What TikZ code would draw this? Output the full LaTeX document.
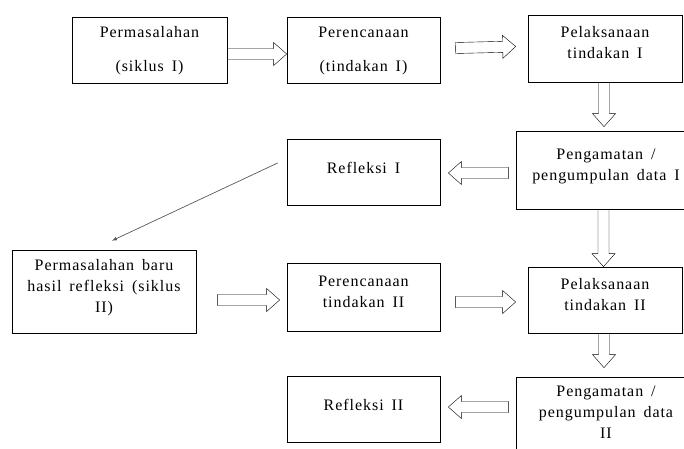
\documentclass[tikz,border=0pt]{standalone}
\usepackage{fontspec}
\setmainfont{Liberation Serif}[LetterSpace=6,WordSpace=1.6]
\usetikzlibrary{positioning, calc}

\newcommand{\lifted}[1]{\raisebox{4.5pt}[\height][\depth]{#1}}

\tikzset{
  stage/.style={draw, rectangle, inner sep=0pt, line width=0.7pt, font=\fontsize{16}{21}\selectfont},
  fat/.style={draw, line width=0.7pt, to path={
    ($(\tikztostart)!5.5pt!90:(\tikztotarget)$)
    -- ($(\tikztotarget)!13pt!(\tikztostart)!5.5pt!90:(\tikztotarget)$)
    -- ($(\tikztotarget)!13pt!(\tikztostart)!11.5pt!90:(\tikztotarget)$)
    -- (\tikztotarget)
    -- ($(\tikztotarget)!13pt!(\tikztostart)!11.5pt!-90:(\tikztotarget)$)
    -- ($(\tikztotarget)!13pt!(\tikztostart)!5.5pt!-90:(\tikztotarget)$)
    -- ($(\tikztostart)!5.5pt!-90:(\tikztotarget)$) -- cycle}},
  back/.style={-latex, line width=0.7pt, draw=black!65},
}

\begin{document}
\begin{tikzpicture}[x=1pt,y=-1pt,on grid]
   \useasboundingbox (0,0) rectangle (684,448);
   \node[stage,minimum width=155pt,minimum height=66pt] (perm1) at (149.5,50) {\begin{tabular}{c} Permasalahan \\[13pt] (siklus I) \end{tabular}};
   \node[stage,minimum width=153pt,minimum height=66pt] (renc1) [right=214pt of perm1] {\begin{tabular}{c} Perencanaan \\[13pt] (tindakan I) \end{tabular}};
   \node[stage,minimum width=154pt,minimum height=67pt] (pel1) [above right=1.5pt and 241.5pt of renc1] {\lifted{\begin{tabular}{c} Pelaksanaan \\ tindakan I \end{tabular}}};
   \node[stage,minimum width=180pt,minimum height=78pt] (peng1) [below right=121.5pt and 1pt of pel1] {\lifted{\begin{tabular}{c} Pengamatan / \\ pengumpulan data I \end{tabular}}};
   \node[stage,minimum width=153pt,minimum height=66pt] (refl1) [below left=2pt and 242.5pt of peng1] {\lifted{Refleksi I}};
   \node[stage,minimum width=154pt,minimum height=66pt] (pel2) [below left=130pt and 1pt of peng1] {\lifted{\begin{tabular}{c} Pelaksanaan \\ tindakan II \end{tabular}}};
   \node[stage,minimum width=153pt,minimum height=68pt] (renc2) [above left=3pt and 241.5pt of pel2] {\lifted{\begin{tabular}{c} Perencanaan \\ tindakan II \end{tabular}}};
   \node[stage,minimum width=184pt,minimum height=83pt] (perm2) [above left=5.5pt and 259.5pt of renc2] {\lifted{\begin{tabular}{c} Permasalahan baru \\ hasil refleksi (siklus \\ II) \end{tabular}}};
   \node[stage,minimum width=180pt,minimum height=82pt] (peng2) [below right=118pt and 1pt of pel2] {\lifted{\begin{tabular}{c} Pengamatan / \\ pengumpulan data \\ II \end{tabular}}};
   \node[stage,minimum width=153pt,minimum height=66pt] (refl2) [below=112pt of renc2] {\lifted{Refleksi II}};

   \draw ([yshift=-4pt]perm1.east) to[fat] ([yshift=-4pt]renc1.west);
   \draw ([xshift=15pt,yshift=2pt]renc1.east) to[fat] ([xshift=-12pt,yshift=2pt]pel1.west);
   \draw ([xshift=-1pt]pel1.south) to[fat] ([xshift=-2pt,yshift=4pt]peng1.north);
   \draw ([xshift=-7pt,yshift=-3pt]peng1.west) to[fat] ([xshift=8pt,yshift=-1pt]refl1.east);
   \draw[back] ([xshift=-9pt,yshift=9pt]refl1.west) -- ([xshift=8pt,yshift=9pt]perm2.north);
   \draw ([xshift=-2.5pt]peng1.south) to[fat] ([xshift=-1.5pt]pel2.north);
   \draw ([xshift=21pt,yshift=-8.5pt]perm2.east) to[fat] ([xshift=-7pt,yshift=-3pt]renc2.west);
   \draw ([xshift=15pt,yshift=-5pt]renc2.east) to[fat] ([xshift=-12pt,yshift=-2pt]pel2.west);
   \draw ([xshift=-1pt]pel2.south) to[fat] ([xshift=-2pt,yshift=9pt]peng2.north);
   \draw ([xshift=-7pt,yshift=11pt]peng2.west) to[fat] ([xshift=8pt,yshift=2pt]refl2.east);
\end{tikzpicture}
\end{document}
